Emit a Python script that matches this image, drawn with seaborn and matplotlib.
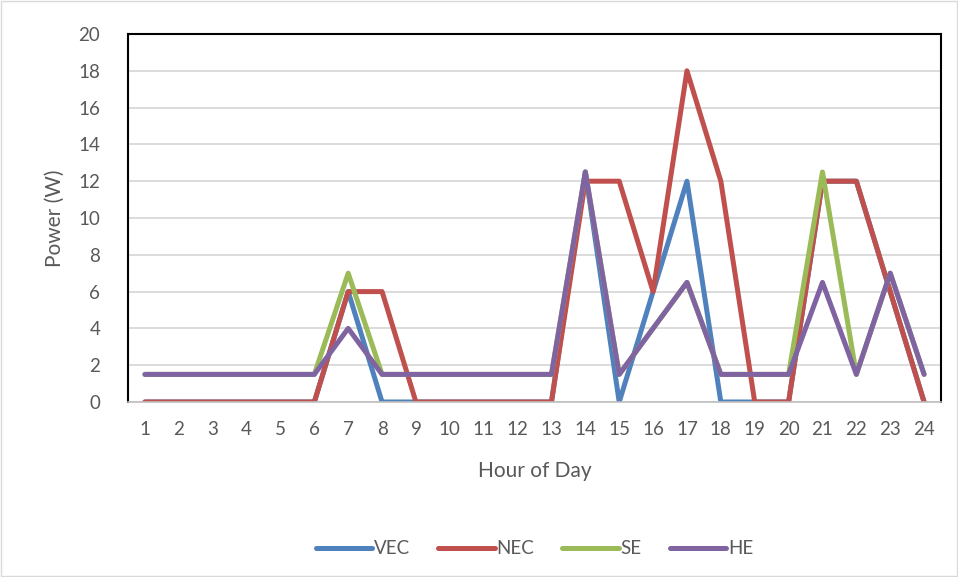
import pandas as pd
import numpy as np
import matplotlib.pyplot as plt
import seaborn as sns

# hourly power readings per system
hours = list(range(1, 25))
vec = [0, 0, 0, 0, 0, 0, 6, 0, 0, 0, 0, 0, 0, 12.5, 0, 6, 12, 0, 0, 0, 12, 12, 6, 0]
nec = [0, 0, 0, 0, 0, 0, 6, 6, 0, 0, 0, 0, 0, 12, 12, 6, 18, 12, 0, 0, 12, 12, 6, 0]
se = [1.5, 1.5, 1.5, 1.5, 1.5, 1.5, 7, 1.5, 1.5, 1.5, 1.5, 1.5, 1.5, 12.5, 1.5, 4, 6.5, 1.5, 1.5, 1.5, 12.5, 1.5, 7, 1.5]
he = [1.5, 1.5, 1.5, 1.5, 1.5, 1.5, 4, 1.5, 1.5, 1.5, 1.5, 1.5, 1.5, 12.5, 1.5, 4, 6.5, 1.5, 1.5, 1.5, 6.5, 1.5, 7, 1.5]
series = ["VEC", "NEC", "SE", "HE"]
colors = ["#4F81BD", "#C0504D", "#9BBB59", "#8064A2"]

df = pd.DataFrame({"hour": hours * 4,
                   "power": vec + nec + se + he,
                   "system": np.repeat(series, len(hours))})

sns.set_style("white")
plt.rcParams['font.family'] = ['Lato', 'DejaVu Sans']
grey = "#595959"

fig = plt.figure(figsize=(9.58, 5.77), dpi=100)
ax = fig.add_axes([0.1336, 0.3033, 0.8487, 0.6378])

sns.lineplot(data=df, x="hour", y="power", hue="system", palette=colors,
             hue_order=series, linewidth=3.6, ax=ax, legend=True,
             solid_capstyle="round", solid_joinstyle="round")

ax.set_xlim(0.5, 24.5)
ax.set_ylim(0, 20)
ax.set_xticks(hours)
ax.set_yticks(range(0, 21, 2))
ax.tick_params(axis="both", colors=grey, labelsize=13.5, length=0)
ax.tick_params(axis="x", pad=14)
ax.tick_params(axis="y", pad=20)
ax.grid(axis="y", color="#d9d9d9", linewidth=1.3)
ax.set_axisbelow(True)
for s in ["left", "top", "right"]:
    ax.spines[s].set_color("black")
    ax.spines[s].set_linewidth(1.5)
ax.spines["bottom"].set_color("#bfbfbf")
ax.spines["bottom"].set_linewidth(1.2)

ax.set_xlabel("Hour of Day", color=grey, fontsize=15, labelpad=16)
ax.set_ylabel("Power (W)", color=grey, fontsize=15, labelpad=10)

ax.legend(loc="upper center", bbox_to_anchor=(0.5, -0.33), ncol=4, frameon=False,
          fontsize=13.5, labelcolor=grey, handlelength=3.0, handletextpad=0.1,
          columnspacing=1.5)

# light frame around whole chart
fig.patches.append(plt.Rectangle((0.001, 0.002), 0.998, 0.996, transform=fig.transFigure,
                                 fill=False, edgecolor="#d9d9d9", linewidth=1))

fig.savefig("out.png", dpi=100)
